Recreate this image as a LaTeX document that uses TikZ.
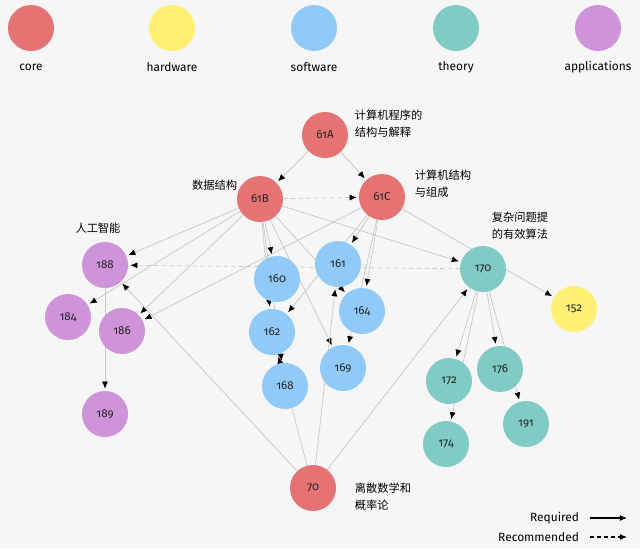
\documentclass[tikz,border=0pt]{standalone}
\usepackage{fontspec}
\setmainfont{Fira Sans}[Numbers=OldStyle]
\newfontfamily\cjk{Noto Sans CJK SC}
\usepackage{tikz}
\usetikzlibrary{arrows.meta}
\usetikzlibrary{backgrounds}
\usetikzlibrary{positioning}
\tikzset{>={Latex[length=5pt,width=4.3pt,color=black]}}
\usepackage{xcolor}
\definecolor{bgcol}{RGB}{246,246,246}
\definecolor{corecol}{HTML}{E57373}
\definecolor{hwcol}{HTML}{FFF176}
\definecolor{swcol}{HTML}{90CAF9}
\definecolor{thcol}{HTML}{80CBC4}
\definecolor{apcol}{HTML}{CE93D8}
\colorlet{edgecol}{black!22}
\tikzstyle{course}=[circle,minimum size=1.15cm,inner sep=0pt,text=black!85,font=\fontsize{8.2}{9}\selectfont]
\tikzstyle{req}=[->,draw=edgecol,line width=0.5pt,shorten >=1.5pt]
\tikzstyle{rec}=[req,dash pattern=on 3pt off 2.5pt]
\tikzstyle{cname}=[anchor=west,align=left,font=\cjk\fontsize{8}{12}\selectfont]

\begin{document}
\begin{tikzpicture}[x=0.025cm,y=-0.025cm]
  \tikzstyle{every node}=[font=\fontsize{8.5}{10}\selectfont]
  \begin{pgfonlayer}{background}
    \fill[bgcol] (0,0) rectangle (640,548);
  \end{pgfonlayer}
  \useasboundingbox (0,0) rectangle (640,548);

  % legend
  \foreach \x/\col/\txt in {31/corecol/core,172/hwcol/hardware,314/swcol/software,456/thcol/theory,598/apcol/applications}{
    \node[course,fill=\col] (leg-\txt) at (\x,28) {};
    \node (lab-\txt) at (\x,67) {\txt};
  }

  % core
  \node[course,fill=corecol] (c61A) at (325,135) {61A};
  \node[course,fill=corecol] (c61B) at (260,199) {61B};
  \node[course,fill=corecol] (c61C) at (382,197) {61C};
  \node[course,fill=corecol] (c70) at (313,488) {70};
  \node[cname] (n61A) at (350,124) {计算机程序的\\结构与解释};
  \node[cname] (n61C) at (410,184) {计算机结构\\与组成};
  \node[cname,anchor=east] (n61B) at (242,185) {数据结构};
  \node[cname] (n70) at (350,497) {离散数学和\\概率论};

  % applications
  \node[course,fill=apcol] (c188) at (105,265) {188};
  \node[course,fill=apcol] (c184) at (68,317) {184};
  \node[course,fill=apcol] (c186) at (122,331) {186};
  \node[course,fill=apcol] (c189) at (105,414) {189};
  \node[cname,anchor=center] (n188) at (98,228) {人工智能};

  % software
  \node[course,fill=swcol] (c160) at (277,279) {160};
  \node[course,fill=swcol] (c161) at (338,264) {161};
  \node[course,fill=swcol] (c164) at (362,311) {164};
  \node[course,fill=swcol] (c162) at (272,332) {162};
  \node[course,fill=swcol] (c169) at (343,368) {169};
  \node[course,fill=swcol] (c168) at (285,386) {168};

  % theory + hardware
  \node[course,fill=thcol] (c170) at (483,269) {170};
  \node[course,fill=hwcol] (c152) at (574,309) {152};
  \node[course,fill=thcol] (c172) at (449,381) {172};
  \node[course,fill=thcol] (c176) at (500,369) {176};
  \node[course,fill=thcol] (c174) at (446,444) {174};
  \node[course,fill=thcol] (c191) at (526,424) {191};
  \node[cname] (n170) at (487,226) {复杂问题提\\的有效算法};

  % prerequisites
  \begin{pgfonlayer}{background}
    \foreach \a/\b in {61A/61B,61A/61C,61B/188,61B/184,61B/186,61C/186,
                       61B/160,61B/162,61B/168,61B/164,61B/169,61B/170,
                       61C/161,61C/162,61C/164,61C/169,61C/152,
                       70/188,70/162,70/161,70/170,
                       170/172,170/174,170/176,170/191,188/189}
      \draw[req] (c\a) -- (c\b);
    \draw[rec] (c61B) -- (c61C);
    \draw[rec] (c170) -- (c188);
  \end{pgfonlayer}

  % key
  \node[anchor=east] (kreq) at (584,518) {Required};
  \node[anchor=east] (krec) at (584,537) {Recommended};
  \coordinate (kreq-end) at (627,518);
  \coordinate (krec-end) at (627,537);
  \draw[->,line width=0.8pt] ([xshift=4pt]kreq.east) -- (kreq-end);
  \draw[->,line width=0.8pt,dash pattern=on 3pt off 2pt] ([xshift=4pt]krec.east) -- (krec-end);
\end{tikzpicture}
\end{document}
